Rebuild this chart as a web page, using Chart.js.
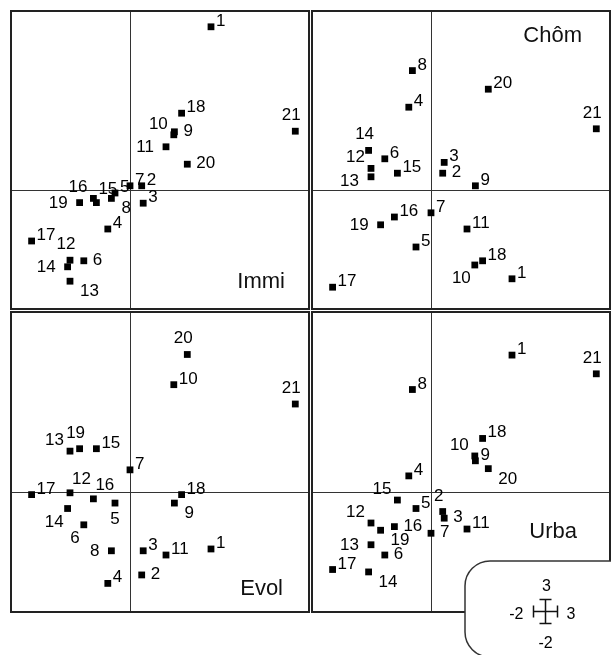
<!DOCTYPE html>
<html>
<head>
<meta charset="utf-8">
<script src="https://cdn.jsdelivr.net/npm/chart.js@4/dist/chart.umd.min.js"></script>
<style>
  html, body { margin: 0; padding: 0; background: #fff; }
  #wrap { position: relative; width: 611px; height: 655px; overflow: hidden; }
  #wrap canvas { position: absolute; }
</style>
</head>
<body>
<div id="wrap">
  <canvas id="immi" width="300" height="300" style="left:10px;top:10px"></canvas>
  <canvas id="chom" width="300" height="300" style="left:311px;top:10px"></canvas>
  <canvas id="evol" width="300" height="302" style="left:10px;top:311px"></canvas>
  <canvas id="urba" width="300" height="344" style="left:311px;top:311px"></canvas>
</div>
<script>
// ---- data ----
const sites = ['1','2','3','4','5','6','7','8','9','10','11','12','13','14','15','16','17','18','19','20','21'];
// common horizontal score of the 21 sites
const scoreX = [1.35, 0.195, 0.22, -0.37, -0.25, -0.77, 0.0, -0.31, 0.74, 0.73, 0.60, -1.0, -1.0, -1.04, -0.56, -0.61, -1.64, 0.86, -0.84, 0.955, 2.755];
// vertical value in each panel
const yImmi = [2.72, 0.07, -0.22, -0.65, -0.05, -1.18, 0.07, -0.14, 0.97, 0.92, 0.72, -1.17, -1.52, -1.28, -0.21, -0.14, -0.85, 1.28, -0.21, 0.43, 0.98];
const yChom = [-1.48, 0.28, 0.46, 1.38, -0.95, 0.52, -0.38, 1.99, 0.07, -1.25, -0.65, 0.36, 0.22, 0.66, 0.28, -0.45, -1.62, -1.18, -0.58, 1.68, 1.02];
const yEvol = [-0.94, -1.37, -0.97, -1.51, -0.18, -0.54, 0.37, -0.97, -0.18, 1.78, -1.04, -0.01, 0.68, -0.27, 0.72, -0.11, -0.04, -0.04, 0.72, 2.28, 1.46];
const yUrba = [2.27, -0.32, -0.43, 0.27, -0.27, -1.04, -0.68, 1.70, 0.52, 0.60, -0.61, -0.51, -0.87, -1.32, -0.13, -0.57, -1.28, 0.89, -0.63, 0.39, 1.96];
const axisMin = -2, axisMax = 3;

// ---- label placement (where the number sits next to its square) ----
const PLACE = {
  ur: { align: 'left',   dx: 5,   dy: -1 },
  r:  { align: 'left',   dx: 9,   dy: 4 },
  l:  { align: 'right',  dx: -12, dy: 5 },
  lo: { align: 'right',  dx: -12, dy: 9 },
  ul: { align: 'right',  dx: -6,  dy: -6 },
  u:  { align: 'center', dx: -4,  dy: -11 },
  ut: { align: 'left',   dx: 2,   dy: -9 },
  dr: { align: 'left',   dx: 10,  dy: 15 },
  dl: { align: 'right',  dx: -4,  dy: 18 },
  d:  { align: 'center', dx: 0,   dy: 21 }
};
const placeImmi = ['ur','ur','ur','ur','ur','r','ur','dr','r','ul','l','u','dr','l','ut','ul','ur','ur','l','r','u'];
const placeChom = ['ur','r','ur','ur','ur','ur','ur','ur','ur','dl','ur','ul','lo','u','ur','ur','ur','ur','l','ur','u'];
const placeEvol = ['ur','r','ur','ur','d','dl','ur','l','dr','ur','ur','ut','ul','dl','ur','ut','ur','ur','u','u','u'];
const placeUrba = ['ur','u','r','ur','ur','r','r','ur','ur','ul','ur','ul','l','dr','ul','r','ur','ur','dr','dr','u'];

const FONT = '"Liberation Sans", Arial, sans-serif';

const panelPlugin = {
  id: 'panel',
  beforeDatasetsDraw(chart, args, opts) {
    const { ctx, chartArea: a, scales: { x, y } } = chart;
    ctx.save();
    ctx.strokeStyle = '#333';
    ctx.lineWidth = 1;
    const x0 = Math.round(x.getPixelForValue(0)) + 0.5;
    const y0 = Math.round(y.getPixelForValue(0)) + 0.5;
    ctx.beginPath();
    ctx.moveTo(x0, a.top); ctx.lineTo(x0, a.bottom);
    ctx.moveTo(a.left, y0); ctx.lineTo(a.right, y0);
    ctx.stroke();
    // panel frame
    ctx.lineWidth = 2;
    ctx.strokeStyle = '#222';
    ctx.strokeRect(a.left + 1, a.top + 1, a.width - 2, a.height - 2);
    ctx.restore();
  },
  afterDatasetsDraw(chart, args, opts) {
    const { ctx, chartArea: a } = chart;
    const meta = chart.getDatasetMeta(0);
    ctx.save();
    ctx.fillStyle = '#000';
    ctx.font = '17px ' + FONT;
    ctx.textBaseline = 'alphabetic';
    meta.data.forEach((pt, i) => {
      const p = PLACE[opts.places[i]];
      ctx.textAlign = p.align;
      ctx.fillText(sites[i], pt.x + p.dx, pt.y + p.dy);
    });
    // panel name
    ctx.font = '22px ' + FONT;
    ctx.fillStyle = '#111';
    ctx.textAlign = 'right';
    ctx.fillText(opts.title, a.left + opts.titleX, a.top + opts.titleY);
    ctx.restore();
  },
  afterDraw(chart, args, opts) {
    if (!opts.key) return;
    const { ctx } = chart;
    ctx.save();
    // rounded key box
    ctx.beginPath();
    ctx.roundRect(154, 250, 170, 96, 25);
    ctx.fillStyle = '#fff';
    ctx.fill();
    ctx.lineWidth = 1.5;
    ctx.strokeStyle = '#333';
    ctx.stroke();
    // scale cross
    const cx = 234.5, cy = 300.5, arm = 12, cap = 6;
    ctx.lineWidth = 1.5;
    ctx.strokeStyle = '#111';
    ctx.beginPath();
    ctx.moveTo(cx - arm, cy); ctx.lineTo(cx + arm, cy);
    ctx.moveTo(cx, cy - arm); ctx.lineTo(cx, cy + arm);
    ctx.moveTo(cx - arm, cy - cap); ctx.lineTo(cx - arm, cy + cap);
    ctx.moveTo(cx + arm, cy - cap); ctx.lineTo(cx + arm, cy + cap);
    ctx.moveTo(cx - cap, cy - arm); ctx.lineTo(cx + cap, cy - arm);
    ctx.moveTo(cx - cap, cy + arm); ctx.lineTo(cx + cap, cy + arm);
    ctx.stroke();
    ctx.fillStyle = '#000';
    ctx.font = '16px ' + FONT;
    ctx.textAlign = 'center';
    ctx.fillText(String(axisMax), cx + 1, cy - 21);
    ctx.fillText(String(axisMin), cx, cy + 36);
    ctx.textAlign = 'right';
    ctx.fillText(String(axisMin), cx - 22, cy + 7);
    ctx.textAlign = 'left';
    ctx.fillText(String(axisMax), cx + 21, cy + 7);
    ctx.restore();
  }
};

function makePanel(id, yVals, places, title, titleX, titleY, extra) {
  const pts = scoreX.map((v, i) => ({ x: v, y: yVals[i] }));
  return new Chart(document.getElementById(id), {
    type: 'scatter',
    data: {
      labels: sites,
      datasets: [{
        data: pts,
        pointStyle: 'rect',
        pointRadius: 4.8,
        pointBackgroundColor: '#000',
        pointBorderWidth: 0,
        clip: false
      }]
    },
    options: {
      responsive: false,
      animation: false,
      events: [],
      layout: { autoPadding: false, padding: extra ? { bottom: 42 } : 0 },
      plugins: {
        legend: { display: false },
        tooltip: { enabled: false },
        panel: { places, title, titleX, titleY, key: !!extra }
      },
      scales: {
        x: { type: 'linear', min: axisMin, max: axisMax, display: false },
        y: { type: 'linear', min: axisMin, max: axisMax, display: false }
      }
    },
    plugins: [panelPlugin]
  });
}

makePanel('immi', yImmi, placeImmi, 'Immi', 275, 278, false);
makePanel('chom', yChom, placeChom, 'Chôm', 271, 32, false);
makePanel('evol', yEvol, placeEvol, 'Evol', 273, 284, false);
makePanel('urba', yUrba, placeUrba, 'Urba', 266, 227, true);
</script>
</body>
</html>
